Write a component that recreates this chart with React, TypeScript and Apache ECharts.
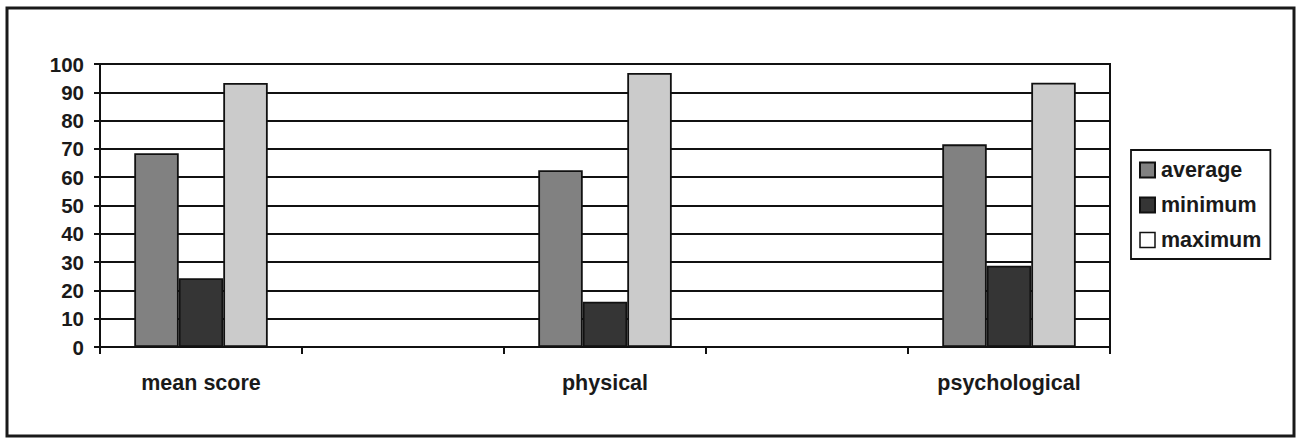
import React, { useEffect, useRef } from "react";
import * as echarts from "echarts";

const categories = ["mean score", "", "physical", "", "psychological"];
const averageValues = [68.5, null, 62.5, null, 71.6];
const minimumValues = [24.3, null, 16.0, null, 28.7];
const maximumValues = [93.3, null, 96.8, null, 93.4];
const seriesNames = ["average", "minimum", "maximum"];

const FONT = "'Liberation Sans', Arial, sans-serif";

export default function App() {
  const ref = useRef<HTMLDivElement>(null);
  useEffect(() => {
    if (!ref.current) return;
    const chart = echarts.init(ref.current, undefined, { renderer: "svg" });
    const barBorder = { borderColor: "#111", borderWidth: 1.8 };
    chart.setOption({
      animation: false,
      backgroundColor: "#fff",
      textStyle: { fontFamily: FONT },
      grid: {
        left: 100,
        right: 188,
        top: 64,
        bottom: 92,
        show: true,
        borderColor: "#111",
        borderWidth: 2,
        backgroundColor: "transparent",
      },
      legend: {
        orient: "vertical",
        left: 1131,
        top: 150,
        padding: [9, 9, 8, 8],
        itemWidth: 15,
        itemHeight: 15,
        itemGap: 13,
        borderColor: "#111",
        borderWidth: 1.8,
        icon: "rect",
        textStyle: {
          fontFamily: FONT,
          fontWeight: "bold",
          fontSize: 21.5,
          lineHeight: 22,
          color: "#1a1a1a",
          padding: [0, 0, 0, 1],
        },
        data: [
          { name: seriesNames[0] },
          { name: seriesNames[1] },
          { name: seriesNames[2], itemStyle: { color: "#fff", borderColor: "#111", borderWidth: 1.5 } },
        ],
      },
      xAxis: {
        type: "category",
        data: categories,
        boundaryGap: true,
        axisLine: { lineStyle: { color: "#111", width: 2 } },
        axisTick: { show: true, length: 7, lineStyle: { color: "#111", width: 2 } },
        axisLabel: {
          fontFamily: FONT,
          fontWeight: "bold",
          fontSize: 21.5,
          color: "#1a1a1a",
          margin: 25,
          interval: 0,
        },
        splitLine: { show: false },
      },
      yAxis: {
        type: "value",
        min: 0,
        max: 100,
        interval: 10,
        axisLine: { show: true, lineStyle: { color: "#111", width: 2 } },
        axisTick: { show: true, length: 6, lineStyle: { color: "#111", width: 2 } },
        axisLabel: {
          fontFamily: FONT,
          fontWeight: "bold",
          fontSize: 20.5,
          color: "#1a1a1a",
          margin: 16,
        },
        splitLine: { show: true, lineStyle: { color: "#111", width: 2 } },
      },
      series: [
        {
          name: seriesNames[0],
          type: "bar",
          data: averageValues,
          barWidth: 44.5,
          barGap: "0%",
          itemStyle: { color: "#818181", ...barBorder },
        },
        {
          name: seriesNames[1],
          type: "bar",
          data: minimumValues,
          barWidth: 44.5,
          barGap: "0%",
          itemStyle: { color: "#353535", ...barBorder },
        },
        {
          name: seriesNames[2],
          type: "bar",
          data: maximumValues,
          barWidth: 44.5,
          barGap: "0%",
          itemStyle: { color: "#cbcbcb", ...barBorder },
        },
      ],
      graphic: [
        {
          type: "rect",
          shape: { x: 7, y: 8, width: 1287, height: 428 },
          style: { fill: "none", stroke: "#1a1a1a", lineWidth: 3 },
          silent: true,
          z: 100,
        },
      ],
    });
    return () => chart.dispose();
  }, []);
  return (
    <div
      ref={ref}
      style={{ position: "fixed", left: 0, top: 0, width: 1298, height: 439 }}
    />
  );
}
